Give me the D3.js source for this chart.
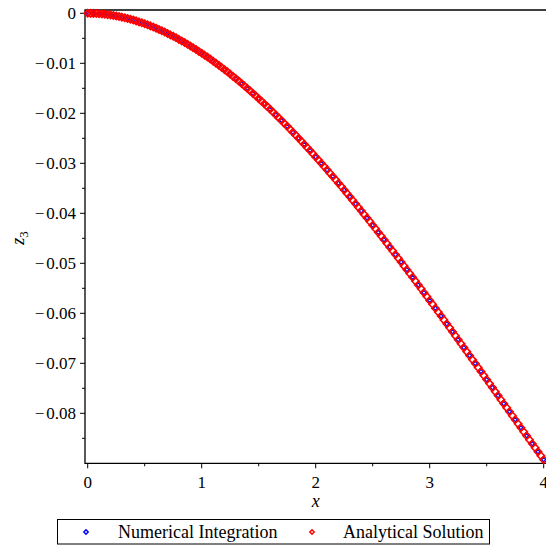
<!DOCTYPE html>
<html>
<head>
  <meta charset="utf-8">
  <title>z3 vs x</title>
  <script src="https://d3js.org/d3.v7.min.js"></script>
  <style>
    html, body {
      margin: 0;
      padding: 0;
      background: #fff;
    }
    .tick-label {
      font: 17px "Liberation Serif", "Times New Roman", serif;
      fill: #000;
    }
    .legend-text {
      font: 18px "Liberation Serif", "Times New Roman", serif;
      fill: #000;
    }
  </style>
</head>
<body>
  <svg id="chart" width="546" height="545"></svg>

  <script>
    // x grid for the analytical solution (step 0.025)
    const xStep = 0.025;
    // analytical solution z3(x)
    const analyticalZ = [
      0, -0.00001, -0.00002, -0.00005, -0.00009, -0.00014, -0.00019, -0.00026, -0.00034, -0.00044,
      -0.00054, -0.00065, -0.00077, -0.00090, -0.00104, -0.00119, -0.00135, -0.00152, -0.00171, -0.00190,
      -0.00210, -0.00230, -0.00252, -0.00275, -0.00299, -0.00323, -0.00349, -0.00375, -0.00403, -0.00431,
      -0.00460, -0.00490, -0.00521, -0.00553, -0.00585, -0.00619, -0.00653, -0.00688, -0.00724, -0.00761,
      -0.00798, -0.00836, -0.00875, -0.00915, -0.00956, -0.00997, -0.01039, -0.01082, -0.01126, -0.01170,
      -0.01216, -0.01261, -0.01308, -0.01355, -0.01403, -0.01452, -0.01501, -0.01551, -0.01602, -0.01653,
      -0.01706, -0.01758, -0.01811, -0.01865, -0.01920, -0.01975, -0.02031, -0.02087, -0.02144, -0.02202,
      -0.02260, -0.02319, -0.02378, -0.02438, -0.02498, -0.02559, -0.02621, -0.02683, -0.02745, -0.02808,
      -0.02872, -0.02936, -0.03001, -0.03066, -0.03131, -0.03197, -0.03263, -0.03330, -0.03398, -0.03465,
      -0.03534, -0.03602, -0.03671, -0.03741, -0.03811, -0.03881, -0.03951, -0.04022, -0.04094, -0.04165,
      -0.04238, -0.04310, -0.04383, -0.04456, -0.04529, -0.04603, -0.04677, -0.04751, -0.04826, -0.04901,
      -0.04976, -0.05052, -0.05127, -0.05203, -0.05280, -0.05356, -0.05433, -0.05510, -0.05587, -0.05664,
      -0.05742, -0.05820, -0.05898, -0.05976, -0.06054, -0.06133, -0.06211, -0.06290, -0.06369, -0.06448,
      -0.06528, -0.06607, -0.06686, -0.06766, -0.06846, -0.06926, -0.07005, -0.07085, -0.07165, -0.07245,
      -0.07326, -0.07406, -0.07486, -0.07566, -0.07646, -0.07727, -0.07807, -0.07887, -0.07968, -0.08048,
      -0.08128, -0.08208, -0.08289, -0.08369, -0.08449, -0.08529, -0.08609, -0.08689, -0.08769, -0.08848,
      -0.08928
    ];
    // numerical integration z3(x), step 0.05
    const numStep = 0.05;
    const numericalZ = [
      0, -0.00002, -0.00009, -0.00019, -0.00034, -0.00054, -0.00077, -0.00104, -0.00135, -0.00171,
      -0.00210, -0.00252, -0.00299, -0.00349, -0.00403, -0.00460, -0.00521, -0.00585, -0.00653, -0.00724,
      -0.00798, -0.00875, -0.00956, -0.01039, -0.01126, -0.01216, -0.01308, -0.01403, -0.01501, -0.01602,
      -0.01706, -0.01811, -0.01920, -0.02031, -0.02144, -0.02260, -0.02378, -0.02498, -0.02621, -0.02745,
      -0.02872, -0.03001, -0.03131, -0.03263, -0.03398, -0.03534, -0.03671, -0.03811, -0.03951, -0.04094,
      -0.04238, -0.04383, -0.04529, -0.04677, -0.04826, -0.04976, -0.05127, -0.05280, -0.05433, -0.05587,
      -0.05742, -0.05898, -0.06054, -0.06211, -0.06369, -0.06528, -0.06686, -0.06846, -0.07005, -0.07165,
      -0.07326, -0.07486, -0.07646, -0.07807, -0.07968, -0.08128, -0.08289, -0.08449, -0.08609, -0.08769,
      -0.08928
    ];
    const xTicks = [0, 1, 2, 3, 4];
    const xMinor = [0.5, 1.5, 2.5, 3.5];
    const yTicks = [0, -0.01, -0.02, -0.03, -0.04, -0.05, -0.06, -0.07, -0.08];
    const yMinor = [-0.005, -0.015, -0.025, -0.035, -0.045, -0.055, -0.065, -0.075, -0.085];
    const legendLabels = ["Numerical Integration", "Analytical Solution"];
    const seriesColors = ["#0000ff", "#ff0000"];

    const svg = d3.select("#chart");

    const x = d3.scaleLinear().domain([0, 4]).range([87.7, 543.7]);
    const y = d3.scaleLinear().domain([0, -0.09]).range([13.3, 463.3]);

    // frame (slightly outside the data area, like Maple)
    const fL = 85, fT = 10, fB = 463.3, fR = 560;
    svg.append("path")
      .attr("d", `M${fR},${fT}H${fL}V${fB}H${fR}`)
      .attr("fill", "none")
      .attr("stroke", "#000")
      .attr("stroke-width", 1.3);

    // x ticks
    svg.selectAll(".xt")
      .data(xTicks)
      .join("line")
      .attr("class", "xt")
      .attr("x1", d => x(d)).attr("x2", d => x(d))
      .attr("y1", fB).attr("y2", fB + 5)
      .attr("stroke", "#000");
    svg.selectAll(".xm")
      .data(xMinor)
      .join("line")
      .attr("class", "xm")
      .attr("x1", d => x(d)).attr("x2", d => x(d))
      .attr("y1", fB).attr("y2", fB + 3)
      .attr("stroke", "#000");
    svg.selectAll(".xl")
      .data(xTicks)
      .join("text")
      .attr("class", "tick-label xl")
      .attr("x", d => x(d))
      .attr("y", 488)
      .attr("text-anchor", "middle")
      .text(d => d);

    // y ticks
    svg.selectAll(".yt")
      .data(yTicks)
      .join("line")
      .attr("class", "yt")
      .attr("x1", fL - 5).attr("x2", fL)
      .attr("y1", d => y(d)).attr("y2", d => y(d))
      .attr("stroke", "#000");
    svg.selectAll(".ym")
      .data(yMinor)
      .join("line")
      .attr("class", "ym")
      .attr("x1", fL - 3).attr("x2", fL)
      .attr("y1", d => y(d)).attr("y2", d => y(d))
      .attr("stroke", "#000");
    const yl = svg.selectAll(".yl")
      .data(yTicks)
      .join("text")
      .attr("class", "tick-label yl")
      .attr("x", 76)
      .attr("y", d => y(d) + 5.5)
      .attr("text-anchor", "end");
    yl.filter(d => d !== 0).append("tspan").text("\u2212");
    yl.append("tspan")
      .attr("dx", d => d === 0 ? 0 : 2)
      .text(d => d === 0 ? "0" : d3.format(".2f")(-d));

    // axis titles
    svg.append("text")
      .attr("class", "legend-text")
      .attr("x", x(2))
      .attr("y", 507)
      .attr("text-anchor", "middle")
      .style("font-style", "italic")
      .text("x");

    const ylab = svg.append("text")
      .attr("class", "legend-text")
      .attr("transform", "translate(24,238) rotate(-90)")
      .attr("text-anchor", "middle");
    ylab.append("tspan").style("font-style", "italic").text("z");
    ylab.append("tspan").attr("dy", 4).style("font-size", "13px").text("3");

    // diamond symbol
    const diamond = d3.symbol().type(d3.symbolDiamond2);

    // numerical points (blue, drawn first)
    svg.append("g")
      .selectAll("path")
      .data(numericalZ)
      .join("path")
      .attr("transform", (d, i) => `translate(${x(i * numStep)},${y(d)})`)
      .attr("d", diamond.size(10)())
      .attr("fill", "none")
      .attr("stroke", seriesColors[0])
      .attr("stroke-width", 1.2);

    // analytical points (red, on top)
    svg.append("g")
      .selectAll("path")
      .data(analyticalZ)
      .join("path")
      .attr("transform", (d, i) => `translate(${x(i * xStep)},${y(d)})`)
      .attr("d", diamond.size(34)())
      .attr("fill", "none")
      .attr("stroke", seriesColors[1])
      .attr("stroke-width", 1.6);

    // legend
    svg.append("rect")
      .attr("x", 57.5).attr("y", 519.5)
      .attr("width", 432).attr("height", 24.5)
      .attr("fill", "none")
      .attr("stroke", "#000")
      .attr("stroke-width", 1);

    const legX = [86, 312];
    const textX = [118, 343];
    legendLabels.forEach((lab, i) => {
      svg.append("path")
        .attr("transform", `translate(${legX[i]},532)`)
        .attr("d", diamond.size(12)())
        .attr("fill", "none")
        .attr("stroke", seriesColors[i])
        .attr("stroke-width", 1.5);
      svg.append("text")
        .attr("class", "legend-text")
        .attr("x", textX[i])
        .attr("y", 538)
        .text(lab);
    });
  </script>
</body>
</html>
